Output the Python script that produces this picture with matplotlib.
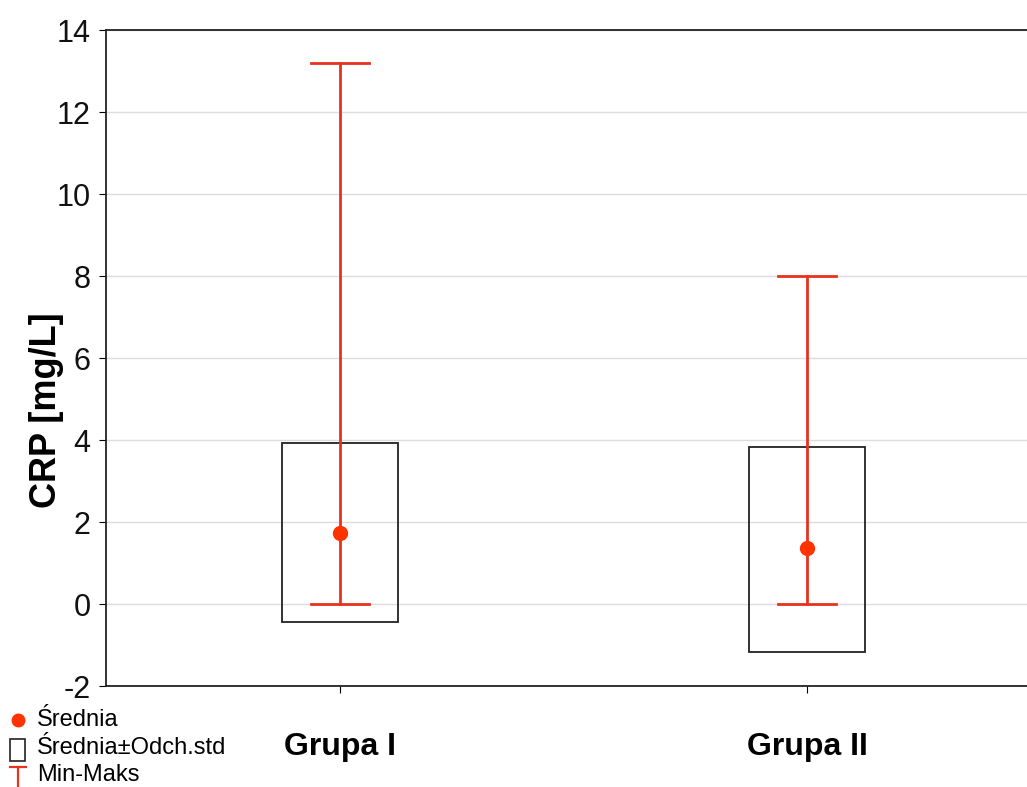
import matplotlib.pyplot as plt
from matplotlib.lines import Line2D
from matplotlib.patches import Rectangle

plt.rcParams['font.family'] = ['Liberation Sans', 'DejaVu Sans']
plt.rcParams['axes.unicode_minus'] = False

groups = ['Grupa I', 'Grupa II']
means = [1.74, 1.36]
sd_low = [-0.45, -1.16]
sd_high = [3.93, 3.83]
mins = [0.0, 0.0]
maxs = [13.2, 8.0]
legend_labels = ['Średnia', 'Średnia±Odch.std', 'Min-Maks']

red = '#e8321e'
W, H = 1027, 787

fig = plt.figure(figsize=(W / 100, H / 100), dpi=100)
ax = fig.add_axes([106 / W, 1 - 686 / H, 935 / W, 656 / H])

box_w = 0.248
cap_w = 0.124
for i in range(len(groups)):
    ax.add_patch(Rectangle((i - box_w / 2, sd_low[i]), box_w, sd_high[i] - sd_low[i],
                           fill=False, edgecolor='#222222', lw=1.3, zorder=3))
    ax.plot([i, i], [mins[i], maxs[i]], color=red, lw=2, zorder=4)
    ax.plot([i - cap_w / 2, i + cap_w / 2], [mins[i], mins[i]], color=red, lw=2, zorder=4)
    ax.plot([i - cap_w / 2, i + cap_w / 2], [maxs[i], maxs[i]], color=red, lw=2, zorder=4)
    ax.plot(i, means[i], 'o', color='#ff3300', ms=10, zorder=5)

ax.set_xlim(-0.5, 1.5)
ax.set_ylim(-2, 14)
ax.set_yticks(range(-2, 15, 2))
ax.set_xticks([0, 1])
ax.set_xticklabels(groups, fontsize=23, fontweight='bold')
ax.tick_params(axis='x', pad=28, length=5)
ax.tick_params(axis='y', labelsize=22, length=5, pad=6, labelcolor='#111111')
ax.grid(axis='y', color='#dddddd', lw=1)
ax.set_axisbelow(True)
for s in ['left', 'bottom', 'top']:
    ax.spines[s].set_linewidth(1.3)
    ax.spines[s].set_color('#222222')
ax.spines['right'].set_visible(False)
ax.set_ylabel('CRP [mg/L]', fontsize=26, fontweight='bold')
ax.yaxis.set_label_coords(-0.045, 0.42)

# legend, drawn by hand in pixel coordinates
def fx(px):
    return px / W

def fy(py):
    return 1 - py / H

fig.add_artist(Line2D([fx(18)], [fy(720)], marker='o', color='#ff3300', ms=9,
                      transform=fig.transFigure))
fig.add_artist(Rectangle((fx(10), fy(761)), fx(15), 22 / H, fill=False,
                         edgecolor='#222222', lw=1.2, transform=fig.transFigure))
fig.add_artist(Line2D([fx(10), fx(26)], [fy(767), fy(767)], color=red, lw=1.6,
                      transform=fig.transFigure))
fig.add_artist(Line2D([fx(18), fx(18)], [fy(767), fy(787)], color=red, lw=1.6,
                      transform=fig.transFigure))
for k, lab in enumerate(legend_labels):
    fig.text(fx(37), fy(720 + 27.5 * k), lab, fontsize=17, va='center', ha='left')

fig.savefig('out.png', dpi=100)
